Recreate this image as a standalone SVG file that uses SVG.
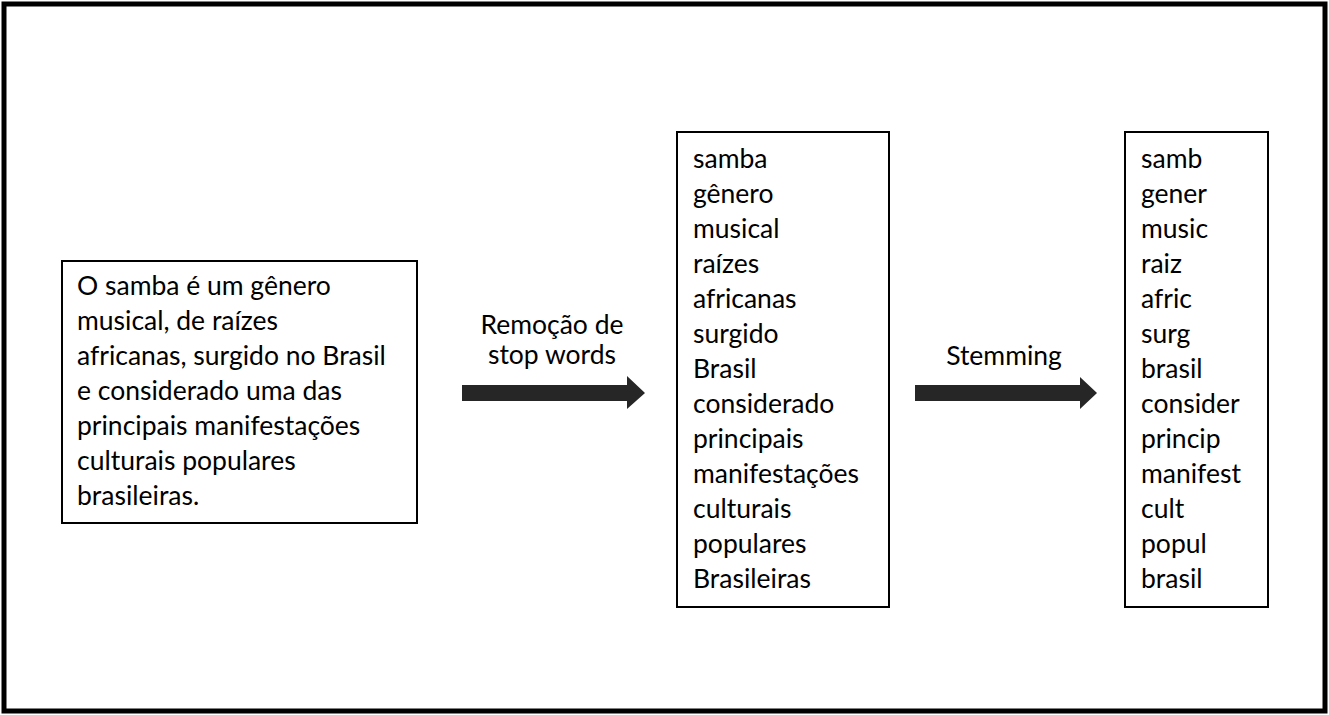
<svg xmlns="http://www.w3.org/2000/svg" width="1329" height="715" viewBox="0 0 1329 715">
<style>
text{font-family:Lato,"Open Sans","Liberation Sans",sans-serif;font-size:26.5px;fill:#000}
.box{fill:#fff;stroke:#000;stroke-width:2}
.arrow{fill:#262626}
</style>
<rect x="4" y="4" width="1321" height="707" fill="#fff" stroke="#000" stroke-width="5"/>
<g id="input">
<rect class="box" x="62" y="261" width="355" height="262"/>
<text x="77" y="295">O samba é um gênero</text>
<text x="77" y="330">musical, de raízes</text>
<text x="77" y="365">africanas, surgido no Brasil</text>
<text x="77" y="400">e considerado uma das</text>
<text x="77" y="435">principais manifestações</text>
<text x="77" y="470">culturais populares</text>
<text x="77" y="505">brasileiras.</text>
</g>
<g id="stopwords">
<rect class="box" x="677" y="132" width="212" height="475"/>
<text x="693" y="168">samba</text>
<text x="693" y="203">gênero</text>
<text x="693" y="238">musical</text>
<text x="693" y="273">raízes</text>
<text x="693" y="308">africanas</text>
<text x="693" y="343">surgido</text>
<text x="693" y="378">Brasil</text>
<text x="693" y="413">considerado</text>
<text x="693" y="448">principais</text>
<text x="693" y="483">manifestações</text>
<text x="693" y="518">culturais</text>
<text x="693" y="553">populares</text>
<text x="693" y="588">Brasileiras</text>
</g>
<g id="stems">
<rect class="box" x="1125" y="132" width="143" height="475"/>
<text x="1141" y="168">samb</text>
<text x="1141" y="203">gener</text>
<text x="1141" y="238">music</text>
<text x="1141" y="273">raiz</text>
<text x="1141" y="308">afric</text>
<text x="1141" y="343">surg</text>
<text x="1141" y="378">brasil</text>
<text x="1141" y="413">consider</text>
<text x="1141" y="448">princip</text>
<text x="1141" y="483">manifest</text>
<text x="1141" y="518">cult</text>
<text x="1141" y="553">popul</text>
<text x="1141" y="588">brasil</text>
</g>
<g id="connectors">
<g id="arrow1">
<polygon class="arrow" points="462,385 627,385 627,376 645,393 627,409 627,401 462,401"/>
<text x="552" y="334" text-anchor="middle">Remoção de</text>
<text x="552" y="364" text-anchor="middle">stop words</text>
</g>
<g id="arrow2">
<polygon class="arrow" points="915,385 1080,385 1080,377 1097,393 1080,409 1080,401 915,401"/>
<text x="1004" y="365" text-anchor="middle">Stemming</text>
</g>
</g>
</svg>
